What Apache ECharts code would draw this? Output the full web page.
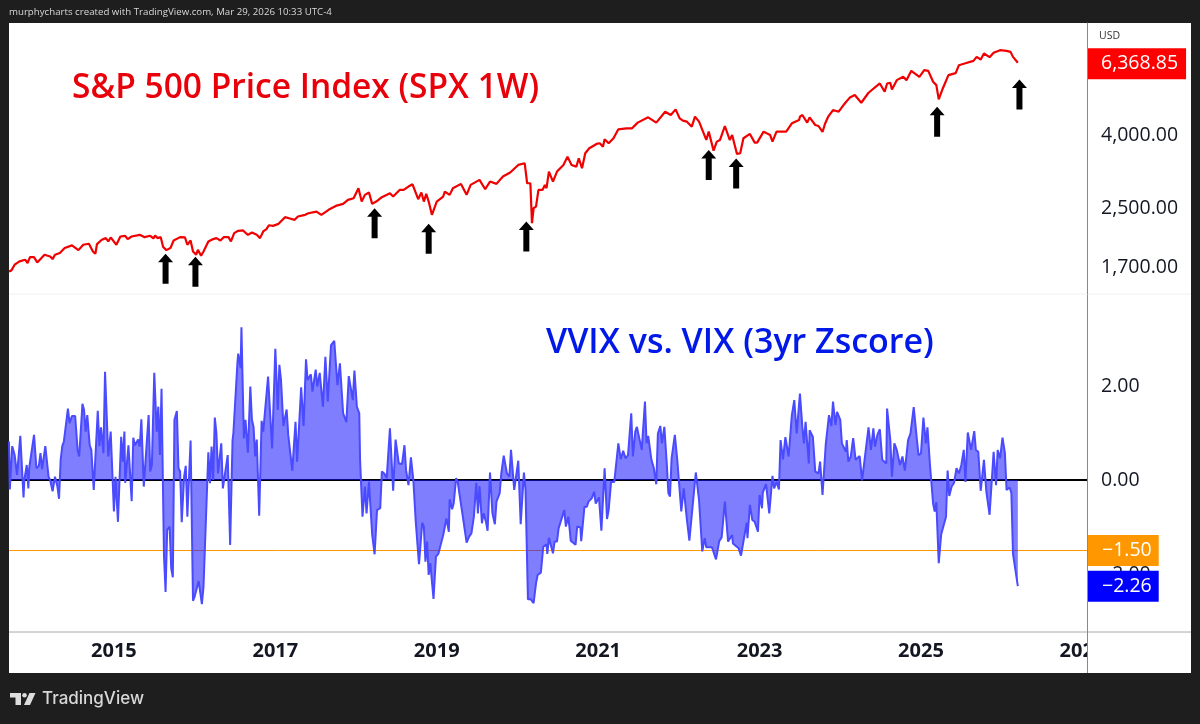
<!DOCTYPE html>
<html>
<head>
    <meta charset="utf-8" />
    <title>SPX vs VVIX/VIX</title>
    <style>
        body{ margin: 0; background: #1e1e1e; }
        #main{ width: 1200px; height: 724px; }
    </style>
</head>
<body>
<div id="main"></div>
<script src="https://cdn.jsdelivr.net/npm/echarts@6/dist/echarts.min.js"></script>
<script>
    // S&P 500 weekly close (decimal year / price)
    var spxYears = [2013.70,2013.73,2013.77,2013.83,2013.90,2013.93,2013.96,2014.01,2014.05,2014.14,2014.21,2014.24,2014.27,2014.33,2014.39,2014.48,2014.56,2014.62,2014.69,2014.74,2014.77,2014.79,2014.85,2014.90,2014.93,2014.96,2015.03,2015.08,2015.14,2015.17,2015.22,2015.32,2015.38,2015.45,2015.49,2015.51,2015.54,2015.58,2015.61,2015.65,2015.70,2015.74,2015.82,2015.88,2015.91,2015.95,2015.98,2016.02,2016.04,2016.08,2016.11,2016.17,2016.23,2016.27,2016.32,2016.36,2016.42,2016.45,2016.49,2016.54,2016.60,2016.66,2016.71,2016.77,2016.81,2016.85,2016.89,2016.92,2016.97,2017.04,2017.12,2017.18,2017.24,2017.28,2017.37,2017.41,2017.51,2017.57,2017.66,2017.76,2017.84,2017.90,2017.97,2018.03,2018.07,2018.11,2018.16,2018.20,2018.25,2018.32,2018.42,2018.46,2018.54,
        2018.59,2018.65,2018.70,2018.77,2018.81,2018.84,2018.87,2018.90,2018.94,2019.00,2019.08,2019.10,2019.16,2019.20,2019.30,2019.37,2019.42,2019.53,2019.60,2019.66,2019.74,2019.82,2019.91,2020.01,2020.09,2020.12,2020.16,2020.18,2020.20,2020.23,2020.26,2020.31,2020.34,2020.36,2020.39,2020.44,2020.49,2020.57,2020.62,2020.67,2020.73,2020.76,2020.80,2020.84,2020.89,2020.98,2021.02,2021.06,2021.08,2021.13,2021.19,2021.25,2021.35,2021.42,2021.49,2021.62,2021.72,2021.83,2021.90,2021.96,2022.01,2022.05,2022.10,2022.16,2022.20,2022.25,2022.34,2022.37,2022.43,2022.47,2022.51,2022.57,2022.63,2022.66,2022.72,2022.76,2022.80,2022.88,2022.94,2022.97,2023.05,2023.13,2023.16,2023.21,2023.33,2023.40,2023.49,
        2023.50,2023.53,2023.59,2023.62,2023.69,2023.73,2023.78,2023.81,2023.85,2023.91,2023.98,2024.04,2024.12,2024.18,2024.26,2024.35,2024.49,2024.55,2024.58,2024.62,2024.64,2024.70,2024.78,2024.82,2024.88,2024.98,2025.04,2025.09,2025.15,2025.19,2025.22,2025.27,2025.34,2025.43,2025.47,2025.54,2025.65,2025.69,2025.74,2025.78,2025.85,2025.90,2025.98,2026.06,2026.11,2026.14,2026.20];
    var spxValues = [1662,1673,1735,1773,1792,1754,1822,1822,1761,1850,1830,1799,1850,1870,1931,1965,1906,1973,1986,1890,1862,1981,2037,2059,2015,2068,1973,2081,2090,2046,2081,2103,2072,2090,2055,2094,2059,2072,1944,1906,1931,2028,2072,2068,1973,2028,1890,1850,1910,1838,1890,2015,2046,2059,2028,2072,2072,2015,2126,2158,2163,2103,2135,2103,2059,2149,2181,2237,2228,2257,2356,2336,2316,2366,2392,2417,2443,2392,2470,2539,2567,2633,2662,2839,2605,2720,2761,2567,2605,2679,2749,2691,2808,
        2808,2869,2912,2645,2761,2605,2737,2605,2392,2605,2691,2778,2720,2839,2919,2720,2900,2995,2820,2963,2919,3060,3140,3298,3333,2931,2931,2267,2496,2523,2808,2808,2900,2839,3160,2963,3160,3298,3479,3298,3263,3442,3228,3555,3671,3775,3791,3710,3890,3791,3915,4148,4175,4175,4330,4480,4330,4645,4547,4715,4451,4385,4357,4219,4499,4357,3873,4087,3616,3832,3873,4237,3873,4000,3540,3555,3915,4026,3807,3807,4087,4000,3832,4087,4087,4311,4404,
        4499,4547,4330,4480,4265,4237,4078,4293,4499,4695,4645,4849,5093,5170,4921,5248,5571,5281,5571,5595,5361,5692,5815,5692,6043,5815,6069,6043,5631,5512,5027,5395,5877,5954,6267,6335,6444,6612,6500,6755,6598,6785,6901,6873,6828,6612,6368.85];

    // VVIX vs VIX 3yr z-score
    var zYears = [2013.70,2013.71,2013.74,2013.77,2013.80,2013.81,2013.84,2013.88,2013.89,2013.92,2013.94,2013.95,2013.97,2014.01,2014.04,2014.07,2014.09,2014.11,2014.15,2014.19,2014.21,2014.24,2014.27,2014.30,2014.32,2014.34,2014.36,2014.38,2014.43,2014.45,2014.48,2014.52,2014.55,2014.57,2014.61,2014.63,2014.65,2014.67,2014.70,2014.72,2014.75,2014.77,2014.80,2014.82,2014.84,2014.87,2014.89,2014.93,2014.96,2014.98,2015.00,2015.02,2015.05,2015.09,2015.11,2015.13,2015.14,2015.18,2015.22,2015.24,2015.26,2015.30,2015.32,2015.34,2015.37,2015.43,2015.45,2015.47,2015.50,2015.53,2015.55,2015.57,2015.59,2015.62,2015.64,2015.66,2015.69,2015.71,2015.73,2015.75,2015.78,2015.80,2015.82,2015.84,2015.87,2015.89,2015.91,2015.95,2015.98,2016.00,2016.05,2016.09,2016.11,2016.17,2016.19,2016.21,2016.23,2016.25,2016.27,2016.29,2016.33,2016.35,2016.41,2016.44,2016.47,2016.48,2016.53,2016.54,2016.57,2016.58,2016.61,2016.63,2016.66,2016.69,2016.71,2016.73,2016.75,2016.77,2016.80,2016.83,2016.85,2016.87,2016.91,2016.93,2016.96,2017.00,2017.03,2017.05,
        2017.07,2017.10,2017.14,2017.16,2017.18,2017.21,2017.25,2017.27,2017.32,2017.35,2017.38,2017.40,2017.44,2017.46,2017.50,2017.52,2017.55,2017.59,2017.62,2017.65,2017.69,2017.71,2017.73,2017.75,2017.77,2017.80,2017.84,2017.88,2017.91,2017.93,2017.96,2017.98,2018.01,2018.04,2018.05,2018.08,2018.11,2018.13,2018.16,2018.17,2018.20,2018.23,2018.26,2018.30,2018.32,2018.35,2018.38,2018.42,2018.46,2018.49,2018.53,2018.57,2018.60,2018.62,2018.65,2018.68,2018.71,2018.74,2018.78,2018.82,2018.84,2018.86,2018.88,2018.90,2018.92,2018.96,2018.99,2019.02,2019.08,2019.12,2019.15,2019.16,2019.19,2019.21,2019.24,2019.26,2019.28,2019.30,2019.32,2019.34,2019.37,2019.40,2019.43,2019.46,2019.49,2019.51,2019.53,2019.56,2019.58,2019.61,2019.63,2019.66,2019.69,2019.72,2019.74,2019.78,2019.80,2019.83,2019.85,2019.87,2019.90,2019.92,2019.96,2020.01,2020.04,2020.08,2020.10,2020.13,2020.16,2020.20,2020.23,2020.25,2020.29,2020.32,2020.36,2020.37,2020.39,2020.44,2020.46,2020.49,2020.51,
        2020.58,2020.60,2020.63,2020.65,2020.66,2020.68,2020.72,2020.74,2020.78,2020.79,2020.83,2020.86,2020.88,2020.92,2020.95,2020.97,2021.01,2021.04,2021.08,2021.11,2021.13,2021.16,2021.20,2021.25,2021.28,2021.31,2021.34,2021.37,2021.41,2021.43,2021.46,2021.48,2021.50,2021.54,2021.58,2021.60,2021.62,2021.66,2021.69,2021.72,2021.74,2021.77,2021.79,2021.82,2021.85,2021.87,2021.89,2021.91,2021.95,2021.98,2022.00,2022.03,2022.06,2022.10,2022.13,2022.15,2022.21,2022.25,2022.29,2022.32,2022.34,2022.41,2022.46,2022.50,2022.53,2022.57,2022.61,2022.66,2022.67,2022.74,2022.77,2022.84,2022.85,2022.88,2022.91,2022.94,2022.98,2023.00,2023.03,2023.04,2023.08,2023.12,2023.16,2023.18,2023.21,2023.24,2023.26,2023.29,2023.32,2023.36,2023.40,2023.43,2023.46,2023.50,2023.53,2023.55,2023.57,2023.61,2023.62,2023.66,2023.69,2023.73,2023.75,2023.78,2023.82,2023.84,2023.86,2023.89,2023.91,2023.94,2023.96,
        2024.00,2024.02,2024.07,2024.08,2024.10,2024.13,2024.16,2024.19,2024.24,2024.27,2024.29,2024.35,2024.38,2024.41,2024.43,2024.46,2024.49,2024.52,2024.57,2024.58,2024.62,2024.64,2024.67,2024.70,2024.74,2024.77,2024.80,2024.84,2024.87,2024.91,2024.95,2024.97,2025.00,2025.03,2025.06,2025.08,2025.11,2025.15,2025.17,2025.19,2025.22,2025.25,2025.27,2025.31,2025.33,2025.35,2025.38,2025.41,2025.44,2025.47,2025.50,2025.53,2025.55,2025.58,2025.62,2025.66,2025.68,2025.71,2025.74,2025.78,2025.81,2025.85,2025.90,2025.93,2025.95,2025.98,2026.01,2026.04,2026.06,2026.08,2026.10,2026.12,2026.14,2026.16,2026.20];
    var zValues = [.82,-.20,.72,.53,.11,.07,.94,-.37,0,.32,-.18,.25,.21,.96,.25,.30,.57,.23,.72,.07,0,-.24,.07,-.14,-.40,.43,.72,.82,1.52,1.21,1.36,1.36,.64,.50,1.62,1.49,1.03,1.38,.74,.64,-.21,-.18,1.47,.72,1.12,.57,2.30,.50,1.03,.99,-.67,.07,-.89,.92,.39,1.03,-.06,.74,-.45,.90,.74,.86,.71,1.29,-.14,1.38,.18,.32,2.28,1.03,1.56,.53,1.94,-1.60,-2.38,-1.06,-.99,-1.88,-2.07,1.28,1.47,.25,.18,-.90,.07,.30,-.78,.84,-2.57,-2.48,-2.15,-2.64,-2.27,.59,-.07,.71,0,1.33,.99,.14,.78,-.18,.53,-1.38,.85,.99,2.48,2.69,2.38,3.25,.89,1.28,.58,1.99,1.28,1.13,.50,.86,-.76,1.26,1.03,1.03,2.20,2.20,.67,2.79,1.49,2.45,
        2.13,1.15,1.50,.96,.92,.20,1.24,.39,1.97,1.15,2.57,2.13,2.25,1.88,2.35,1.99,2.28,1.56,2.62,1.67,2.87,2.87,2.96,2.96,2.02,2.48,1.42,1.23,2.21,2.23,1.70,2.33,1.56,1.42,.43,-.78,-.14,-.71,-.04,-.07,-1.16,-1.58,-.64,-.60,.18,.14,.04,1.10,-.23,.86,.35,.34,.74,.21,-.11,.48,0,-.89,-1.79,-.91,-.99,-1.74,-1.31,-2.02,-1.77,-2.53,-1.63,-1.57,-1.17,-.82,-1.10,-.41,-.62,-.50,.04,-.04,-.28,-.25,-.74,-.78,-1.33,-1.21,-1.13,-.78,-.06,-.71,-.13,-.92,-.71,-.89,-1.08,.16,-.71,-.94,-.46,-.28,.14,.52,.50,.14,.07,.64,-.21,.41,-.94,.16,-.21,-2.54,-2.53,-2.62,-2.20,-2.02,-1.97,-1.42,-1.37,-1.57,-1.23,-1.56,-1.31,-1.31,-1.03,
        -.64,-.99,-.78,-1.10,-1.29,-1.31,-1.38,-.99,-1.01,-1.30,-.57,-.57,-.46,-.39,-.25,-.50,-.37,-1.08,.25,-.83,-.64,-.04,-.04,.78,.44,.62,.46,.53,1.42,.50,1.03,1.13,1.13,.64,1.67,.78,.94,.43,.25,-.09,.99,1.15,.78,1.13,.35,-.28,-.35,.46,.96,.43,.41,-.67,-.18,-.85,-1.29,-1.28,.16,-.43,-1.52,-1.24,-1.43,-1.43,-1.69,-1.30,-1.22,-.46,-1.31,-1.17,-1.35,-1.45,-1.61,-.91,-1.24,-.53,-.85,-.89,-1.10,-.32,-.60,-.27,-.09,-.71,.09,-.18,-.04,-.20,.85,.44,.91,.50,1.38,1.70,.99,1.84,1.13,.78,1.24,.35,1.06,.92,.18,.14,.39,-.32,.76,.76,1.38,1.15,1.67,1.17,1.45,
        1.28,.78,.60,.85,.39,.50,.89,.43,.51,-.01,0,1.12,.64,1.10,.71,.96,1.08,.43,.35,1.52,.85,.07,.78,.64,.32,.50,.20,.85,.99,1.55,.85,.53,.57,1.33,.78,1.12,.35,-.50,-.67,-.47,-1.77,-1.16,-1.16,-.78,.20,-.34,-.14,-.06,.25,.14,.32,.64,-.04,1.01,.64,1.04,.64,.60,-.23,.43,-.25,-.74,.60,-.11,.64,.46,.90,.57,-.21,-.25,-.16,-.28,-1.57,-1.57,-2.26];

    // arrows under the lows: where each one sits on the price scale
    var arrowYears = [2015.64,2016.01,2018.23,2018.90,2020.11,2022.37,2022.71,2025.20,2026.22];
    var arrowValues = [1691,1659,2267,2050,2081,3298,3120,4357,5192];

    var yearTicks = [2015,2017,2019,2021,2023,2025,2027];
    var spxTicks = [1700,2500,4000];
    var zTicks = [-2,0,2];

    var lastPrice = 6368.85;
    var lastZ = -2.26;
    var zeroLevel = 0;
    var signalLevel = -1.5;

    function zip(xs, ys){
        return xs.map(function(x, i){ return [x, ys[i]]; });
    }
    function fmtPrice(v){
        return v.toLocaleString('en-US', {minimumFractionDigits: 2, maximumFractionDigits: 2});
    }
    function fmtZ(v){
        return (v < 0 ? '\u2212' : '') + Math.abs(v).toFixed(2);
    }

    var font = '"Open Sans"';
    var xMin = 2013.70, xMax = 2027.057;
    var arrowPath = 'path://M7.5 0L15 8.5L10.5 8.5L10.5 30L4.5 30L4.5 8.5L0 8.5Z';
    var hiddenLine = {color: 'rgba(0,0,0,0)', width: 1, type: 'solid'};

    function tag(bg, text, padding, offset){
        return {
            show: true, position: 'end', distance: 1, formatter: text, offset: offset || [0, 0],
            color: '#fff', backgroundColor: bg, padding: padding,
            fontFamily: font, fontSize: 19.5
        };
    }

    var option = {
        animation: false,
        backgroundColor: '#1e1e1e',
        grid: [
            {left: 9, right: 113, top: 23, height: 271},
            {left: 9, right: 113, top: 295, height: 337}
        ],
        xAxis: [
            {type: 'value', gridIndex: 0, min: xMin, max: xMax, axisLine: {show: false}, axisTick: {show: false}, axisLabel: {show: false}, splitLine: {show: false}},
            {type: 'value', gridIndex: 1, min: xMin, max: xMax, z: 1, axisLine: {show: false}, axisTick: {show: false}, splitLine: {show: false},
                axisLabel: {customValues: yearTicks, formatter: function(v){ return String(v); }, color: '#131722', fontFamily: font, fontWeight: 'bold', fontSize: 20, margin: 9, hideOverlap: false}}
        ],
        yAxis: [
            {type: 'log', gridIndex: 0, position: 'right', min: 1437, max: 8222, z: 4, splitLine: {show: false}, axisTick: {show: false},
                axisLine: {show: true, lineStyle: {color: '#888', width: 1}},
                axisLabel: {customValues: spxTicks, formatter: fmtPrice, color: '#131722', fontFamily: font, fontSize: 19.5, margin: 14, padding: [2, 0, 0, 0]}},
            {type: 'value', gridIndex: 1, position: 'right', min: -3.234, max: 3.936, z: 4, splitLine: {show: false}, axisTick: {show: false},
                axisLine: {show: true, lineStyle: {color: '#888', width: 1}},
                axisLabel: {customValues: zTicks, formatter: fmtZ, color: '#131722', fontFamily: font, fontSize: 19.5, margin: 14, padding: [2, 0, 0, 0]}}
        ],
        series: [
            {
                type: 'line', xAxisIndex: 0, yAxisIndex: 0, z: 6, data: zip(spxYears, spxValues),
                showSymbol: false, silent: true, lineStyle: {color: '#f00000', width: 2.2},
                markLine: {z: 6, silent: true, symbol: 'none',
                    data: [{yAxis: lastPrice, lineStyle: hiddenLine, label: tag('#ff0000', fmtPrice(lastPrice), [6, 8, 5, 13], [0, 1])}]}
            },
            {
                type: 'scatter', xAxisIndex: 0, yAxisIndex: 0, z: 7, data: zip(arrowYears, arrowValues),
                symbol: arrowPath, symbolSize: [15, 30], silent: true, itemStyle: {color: '#000', opacity: 1}
            },
            {
                type: 'line', xAxisIndex: 1, yAxisIndex: 1, z: 6, data: zip(zYears, zValues),
                showSymbol: false, silent: true, lineStyle: {color: '#4a4aff', width: 2},
                areaStyle: {color: 'rgba(20,20,255,0.55)', opacity: 1, origin: 0},
                markLine: {z: 6, silent: true, symbol: 'none',
                    data: [
                        {yAxis: zeroLevel, lineStyle: {color: '#000', width: 2, type: 'solid'}, label: {show: false}},
                        {yAxis: signalLevel, lineStyle: {color: '#ff9800', width: 1, type: 'solid'}, label: tag('#ff9800', fmtZ(signalLevel), [6, 7, 5, 14])},
                        {yAxis: lastZ, lineStyle: hiddenLine, label: tag('#0000ff', fmtZ(lastZ), [6, 7, 5, 14])}
                    ]}
            }
        ],
        graphic: [
            {type: 'rect', z: -10, shape: {x: 9, y: 23, width: 1182, height: 650}, style: {fill: '#fff'}},
            {type: 'rect', z: 3, shape: {x: 1087.5, y: 633, width: 103.5, height: 40}, style: {fill: '#fff'}},
            {type: 'line', z: 4, shape: {x1: 9, y1: 294, x2: 1191, y2: 294}, style: {stroke: '#f0f0f0', lineWidth: 1}},
            {type: 'line', z: 4, shape: {x1: 9, y1: 632, x2: 1191, y2: 632}, style: {stroke: '#a8a8a8', lineWidth: 1}},
            {type: 'line', z: 4, shape: {x1: 1087.5, y1: 632, x2: 1087.5, y2: 673}, style: {stroke: '#888', lineWidth: 1}},
            {type: 'text', z: 8, x: 9, y: 7, style: {text: 'murphycharts created with TradingView.com, Mar 29, 2026 10:33 UTC-4', fill: '#d8d8d8', font: '9.7px ' + font}},
            {type: 'text', z: 8, x: 1099, y: 31, style: {text: 'USD', fill: '#333', font: '10.5px ' + font}},
            {type: 'text', z: 8, x: 72, y: 71, style: {text: 'S&P 500 Price Index (SPX 1W)', fill: '#e8000a', font: '600 33.5px "Open Sans"'}},
            {type: 'text', z: 8, x: 546, y: 326, style: {text: 'VVIX vs. VIX (3yr Zscore)', fill: '#0018e8', font: '600 34px "Open Sans"'}},
            // footer logo
            {type: 'polygon', z: 8, shape: {points: [[10, 693], [21, 693], [21, 705], [15.5, 705], [15.5, 697.5], [10, 697.5]]}, style: {fill: '#ddd'}},
            {type: 'circle', z: 8, shape: {cx: 24.5, cy: 695.3, r: 2.3}, style: {fill: '#ddd'}},
            {type: 'polygon', z: 8, shape: {points: [[29.5, 693], [35.5, 693], [30, 705], [24, 705]]}, style: {fill: '#ddd'}},
            {type: 'text', z: 8, x: 42, y: 690, style: {text: 'TradingView', fill: '#d8d8d8', font: '500 17px Inter'}}
        ]
    };

    var chart = echarts.init(document.getElementById('main'));
    chart.setOption(option);
</script>
</body>
</html>
